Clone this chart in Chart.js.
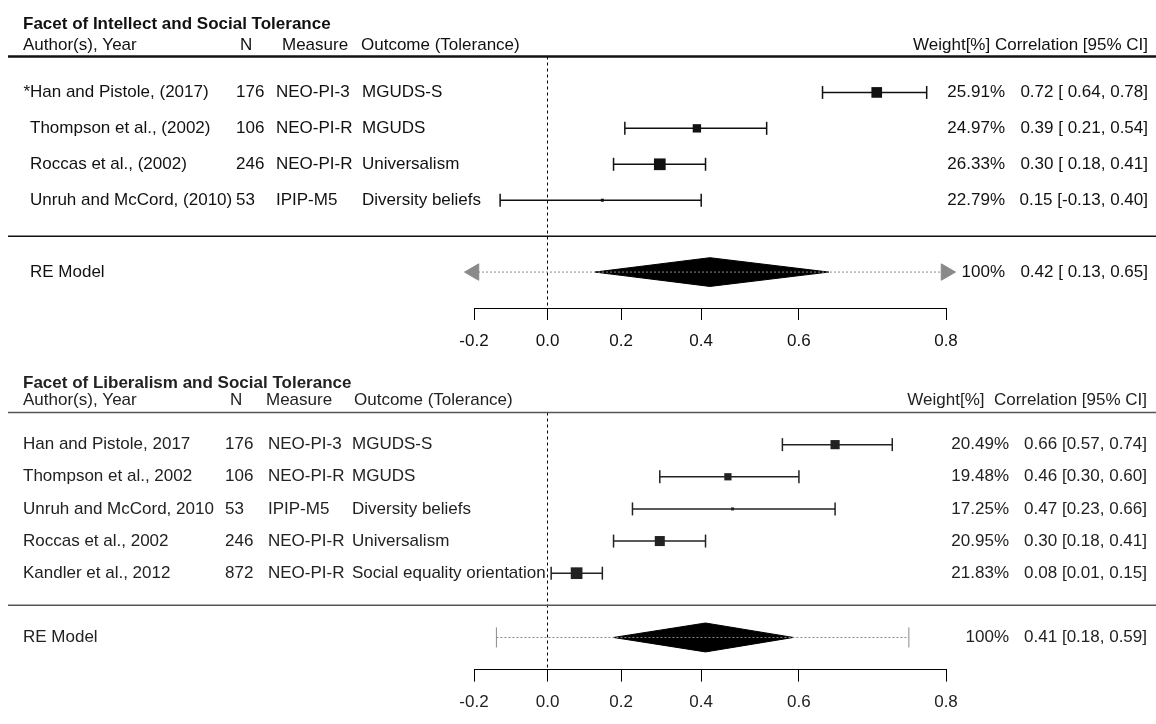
<!DOCTYPE html>
<html>
<head>
<meta charset="utf-8">
<title>Forest plots: Intellect / Liberalism and Social Tolerance</title>
<script src="https://cdn.jsdelivr.net/npm/chart.js@4.4.0/dist/chart.umd.min.js"></script>
<style>
  html, body { margin: 0; padding: 0; background: #fff; }
  .panel { position: relative; width: 1156px; }
</style>
</head>
<body>
<div class="panel"><canvas id="intellectChart" width="1156" height="368"></canvas></div>
<div class="panel"><canvas id="liberalismChart" width="1156" height="356"></canvas></div>
<script>
// --- DATA: Facet of Intellect ---
const intellectAuthors = ["*Han and Pistole, (2017)", "Thompson et al., (2002)", "Roccas et al., (2002)", "Unruh and McCord, (2010)"];
const intellectN = [176, 106, 246, 53];
const intellectMeasures = ["NEO-PI-3", "NEO-PI-R", "NEO-PI-R", "IPIP-M5"];
const intellectOutcomes = ["MGUDS-S", "MGUDS", "Universalism", "Diversity beliefs"];
const intellectWeights = [25.91, 24.97, 26.33, 22.79];
const intellectR = [0.72, 0.39, 0.30, 0.15];
const intellectLower = [0.64, 0.21, 0.18, -0.13];
const intellectUpper = [0.78, 0.54, 0.41, 0.40];
const intellectRE = [0.42, 0.13, 0.65];   // estimate, lower, upper
const intellectPI = [-0.36, 0.91];        // prediction interval (runs past the axis)

// --- DATA: Facet of Liberalism ---
const liberalismAuthors = ["Han and Pistole, 2017", "Thompson et al., 2002", "Unruh and McCord, 2010", "Roccas et al., 2002", "Kandler et al., 2012"];
const liberalismN = [176, 106, 53, 246, 872];
const liberalismMeasures = ["NEO-PI-3", "NEO-PI-R", "IPIP-M5", "NEO-PI-R", "NEO-PI-R"];
const liberalismOutcomes = ["MGUDS-S", "MGUDS", "Diversity beliefs", "Universalism", "Social equality orientation"];
const liberalismWeights = [20.49, 19.48, 17.25, 20.95, 21.83];
const liberalismR = [0.66, 0.46, 0.47, 0.30, 0.08];
const liberalismLower = [0.57, 0.30, 0.23, 0.18, 0.01];
const liberalismUpper = [0.74, 0.60, 0.66, 0.41, 0.15];
const liberalismRE = [0.41, 0.18, 0.59];
const liberalismPI = [-0.14, 0.76];

// axis tick labels (correlations, drawn on the Fisher z scale)
const tickValues = [-0.2, 0.0, 0.2, 0.4, 0.6, 0.8];

const FONT = '"Liberation Sans", Arial, sans-serif';
const z = r => Math.atanh(r);

function ciText(est, lo, hi, pad) {
  const f = v => (pad && v >= 0 ? " " : "") + v.toFixed(2);
  return `${est.toFixed(2)} [${f(lo)}, ${hi.toFixed(2)}]`;
}

function buildPanel(canvasId, p) {
  const k = p.authors.length;
  const sepRow = k + 1, reRow = k + 2, yMax = k + 3;
  const xMin = z(tickValues[0]), xMax = z(tickValues[tickValues.length - 1]);
  const wMin = Math.min(...p.weights), wMax = Math.max(...p.weights);
  const sizes = p.weights.map(w => 3 + 8.7 * (w - wMin) / (wMax - wMin));
  const pad = p.lower.some(v => v < 0);
  const L = p.layout;

  const datasets = [];
  // confidence intervals with end caps
  p.r.forEach((v, i) => {
    datasets.push({
      data: [{ x: z(p.lower[i]), y: i + 1 }, { x: z(p.upper[i]), y: i + 1 }],
      borderColor: L.ink, borderWidth: 1.5,
      pointStyle: "line", pointRotation: 90, pointRadius: 6.5,
      pointBorderColor: L.ink, pointBorderWidth: 1.5, clip: false
    });
  });
  // weighted squares
  datasets.push({
    data: p.r.map((v, i) => ({ x: z(v), y: i + 1 })),
    showLine: false, pointStyle: "rect",
    pointRadius: sizes.map(s => s / Math.SQRT2),
    pointBackgroundColor: L.ink, pointBorderWidth: 0, clip: false
  });
  // prediction interval (arrows when it leaves the axis)
  const piLo = Math.max(z(p.pi[0]), xMin), piHi = Math.min(z(p.pi[1]), xMax);
  const loCut = z(p.pi[0]) < xMin, hiCut = z(p.pi[1]) > xMax;
  datasets.push({
    data: [{ x: piLo, y: reRow }, { x: piHi, y: reRow }],
    borderColor: "#8a8a8a", borderWidth: 1, borderDash: [2, 2],
    pointStyle: [loCut ? "triangle" : "line", hiCut ? "triangle" : "line"],
    pointRotation: [loCut ? -90 : 90, 90],
    pointRadius: [loCut ? 9.5 : 10, hiCut ? 9.5 : 10],
    pointBackgroundColor: "#8a8a8a", pointBorderColor: "#8a8a8a", pointBorderWidth: 1,
    clip: false
  });
  // summary diamond: upper half filled down to lower half
  const h = L.diamond;
  datasets.push({
    data: [{ x: z(p.re[1]), y: reRow }, { x: z(p.re[0]), y: reRow - h }, { x: z(p.re[2]), y: reRow }],
    borderColor: "#000", backgroundColor: "#000", borderWidth: 1,
    pointRadius: 0, fill: "+1"
  });
  datasets.push({
    data: [{ x: z(p.re[1]), y: reRow }, { x: z(p.re[0]), y: reRow + h }, { x: z(p.re[2]), y: reRow }],
    borderColor: "#000", borderWidth: 1, pointRadius: 0, fill: false
  });

  const tablePlugin = {
    id: "forestTable",
    afterDraw(chart) {
      const ctx = chart.ctx;
      const y = v => chart.scales.y.getPixelForValue(v);
      const font = `${L.fontSize}px ${FONT}`;
      ctx.save();
      ctx.textBaseline = "middle";
      ctx.fillStyle = L.ink;

      // title and header
      ctx.font = `bold ${L.fontSize}px ${FONT}`;
      ctx.textAlign = "left";
      ctx.fillText(p.title, L.headX, y(L.titleRow));
      ctx.font = font;
      const hy = y(L.headRow);
      ctx.fillText("Author(s), Year", L.headX, hy);
      ctx.fillText("N", L.headN, hy);
      ctx.fillText("Measure", L.headMeasure, hy);
      ctx.fillText("Outcome (Tolerance)", L.headOutcome, hy);
      ctx.textAlign = "right";
      ctx.fillText(L.rightHeader, L.corrX, hy);

      // rows
      p.authors.forEach((a, i) => {
        const ry = y(i + 1);
        ctx.textAlign = "left";
        let nx = L.nameX;
        if (a.startsWith("*")) nx -= ctx.measureText("*").width;
        ctx.fillText(a, nx, ry);
        ctx.fillText(String(p.n[i]), L.nX, ry);
        ctx.fillText(p.measures[i], L.measureX, ry);
        ctx.fillText(p.outcomes[i], L.outcomeX, ry);
        ctx.textAlign = "right";
        ctx.fillText(p.weights[i].toFixed(2) + "%", L.weightX, ry);
        ctx.fillText(ciText(p.r[i], p.lower[i], p.upper[i], pad), L.corrX, ry);
      });

      // summary row
      const sy = y(reRow);
      ctx.textAlign = "left";
      ctx.fillText("RE Model", L.nameX, sy);
      ctx.textAlign = "right";
      ctx.fillText("100%", L.weightX, sy);
      ctx.fillText(ciText(p.re[0], p.re[1], p.re[2], pad), L.corrX, sy);

      // rules
      ctx.strokeStyle = L.ruleColor;
      ctx.lineWidth = L.headRule;
      ctx.beginPath(); ctx.moveTo(8, y(0)); ctx.lineTo(1156, y(0)); ctx.stroke();
      ctx.lineWidth = 1.5;
      ctx.beginPath(); ctx.moveTo(8, y(sepRow)); ctx.lineTo(1156, y(sepRow)); ctx.stroke();
      ctx.restore();
    }
  };

  return new Chart(document.getElementById(canvasId), {
    type: "line",
    data: { datasets },
    options: {
      responsive: false,
      animation: false,
      events: [],
      layout: { padding: { left: 474, right: 210, top: L.top, bottom: L.bottom } },
      elements: { line: { tension: 0 } },
      plugins: { legend: { display: false }, tooltip: { enabled: false } },
      scales: {
        x: {
          type: "linear", min: xMin, max: xMax,
          afterBuildTicks: scale => { scale.ticks = tickValues.map(v => ({ value: z(v) })); },
          ticks: {
            autoSkip: false, maxRotation: 0, padding: 11, color: L.ink,
            font: { family: FONT, size: L.fontSize },
            callback: value => Math.tanh(value).toFixed(1)
          },
          grid: {
            drawOnChartArea: true, drawTicks: true, tickLength: 12,
            tickColor: "#000", tickWidth: 1, lineWidth: 1,
            color: c => (c.tick && Math.abs(c.tick.value) < 1e-9 ? "#000" : "rgba(0,0,0,0)")
          },
          border: { display: true, color: "#000", width: 1, dash: [3, 3] }
        },
        y: { type: "linear", display: false, reverse: true, min: 0, max: yMax }
      }
    },
    plugins: [tablePlugin]
  });
}

buildPanel("intellectChart", {
  title: "Facet of Intellect and Social Tolerance",
  authors: intellectAuthors, n: intellectN, measures: intellectMeasures, outcomes: intellectOutcomes,
  weights: intellectWeights, r: intellectR, lower: intellectLower, upper: intellectUpper,
  re: intellectRE, pi: intellectPI,
  layout: {
    top: 56.5, bottom: 5.6, fontSize: 17, ink: "#111", ruleColor: "#111", headRule: 2.5, diamond: 0.4,
    titleRow: -0.9, headRow: -0.32,
    headX: 23, headN: 240, headMeasure: 282, headOutcome: 361,
    nameX: 30, nX: 236, measureX: 276, outcomeX: 362, weightX: 1005, corrX: 1148,
    rightHeader: "Weight[%] Correlation [95% CI]"
  }
});

buildPanel("liberalismChart", {
  title: "Facet of Liberalism and Social Tolerance",
  authors: liberalismAuthors, n: liberalismN, measures: liberalismMeasures, outcomes: liberalismOutcomes,
  weights: liberalismWeights, r: liberalismR, lower: liberalismLower, upper: liberalismUpper,
  re: liberalismRE, pi: liberalismPI,
  layout: {
    top: 44.5, bottom: 0, fontSize: 17, ink: "#222", ruleColor: "#555", headRule: 1.5, diamond: 0.45,
    titleRow: -0.92, headRow: -0.37,
    headX: 23, headN: 230, headMeasure: 266, headOutcome: 354,
    nameX: 23, nX: 225, measureX: 268, outcomeX: 352, weightX: 1009, corrX: 1147,
    rightHeader: "Weight[%]  Correlation [95% CI]"
  }
});
</script>
</body>
</html>
